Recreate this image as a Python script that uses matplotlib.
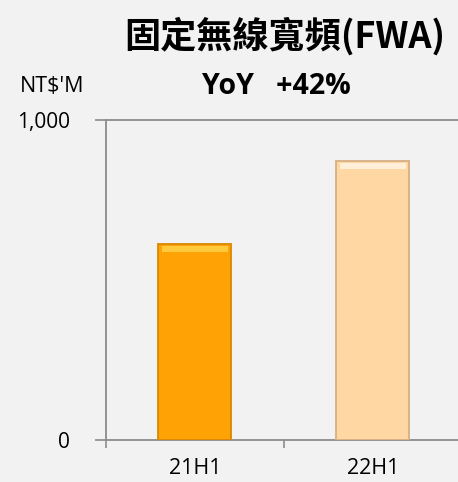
import matplotlib.pyplot as plt
import numpy as np

# values (NT$ million)
periods = ["21H1", "22H1"]
revenue = [613, 872]
bar_colors = ["#FFA206", "#FFD7A2"]
edge_colors = ["#D98800", "#D6AF84"]
shine_colors = ["#FFC93C", "#FFEFD8"]
yoy_text = "YoY   +42%"
title = "固定無線寬頻(FWA)"

plt.rcParams['font.family'] = ['Noto Sans CJK TC', 'DejaVu Sans']
latin = ["Open Sans", "DejaVu Sans"]

fig = plt.figure(figsize=(4.58, 4.82), dpi=100)
fig.patch.set_facecolor("#F2F2F2")
ax = fig.add_axes([106 / 458, 42 / 482, 352 / 458, 320 / 482])
ax.set_facecolor("#F2F2F2")

x = np.arange(len(periods))
ax.bar(x, revenue, width=0.41, color=bar_colors, edgecolor=edge_colors, linewidth=1.3, zorder=3)
# light bevel strip near the top of each bar
rev = np.array(revenue)
ax.bar(x, 20, bottom=rev - 26, width=0.37, color=shine_colors, linewidth=0, zorder=4)

ax.set_xlim(-0.5, 1.478)
ax.set_ylim(0, 1000)

for s in ["top", "right"]:
    ax.spines[s].set_visible(False)
for s in ["left", "bottom"]:
    ax.spines[s].set_color("#8C8C8C")
    ax.spines[s].set_linewidth(1.3)
ax.axhline(1000, color="#8C8C8C", lw=1.3, zorder=1, clip_on=False)

ax.set_yticks([0, 1000])
ax.set_yticklabels(["0", "1,000"], family=latin, fontsize=15)
ax.tick_params(axis="y", length=8, width=1.2, color="#8C8C8C", pad=18)

# category labels centred on bars, tick marks between categories
ax.set_xticks([-0.5, 0.5])
ax.set_xticklabels([])
ax.set_xticks(x, minor=True)
ax.set_xticklabels(periods, minor=True, family=latin, fontsize=15.5)
ax.tick_params(axis="x", which="major", length=6, width=1.2, color="#8C8C8C", direction="out")
ax.tick_params(axis="x", which="minor", length=0, pad=13)

fig.text(285 / 458, 1 - 36 / 482, title, ha="center", va="center", fontsize=26, fontweight="bold")
fig.text(276 / 458, 1 - 87 / 482, yoy_text, ha="center", va="center", fontsize=20.5, fontweight="bold",
         family=latin)
fig.text(52 / 458, 1 - 87 / 482, "NT$'M", ha="center", va="center", fontsize=15.5, family=latin)

fig.savefig("out.png", dpi=100, facecolor=fig.get_facecolor())
